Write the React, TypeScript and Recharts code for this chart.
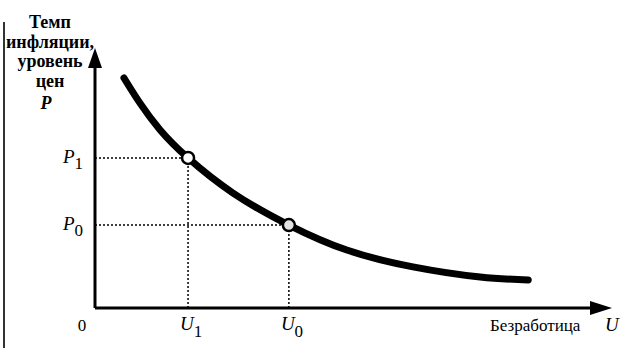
import { Line, LineChart, ReferenceDot, ReferenceLine, XAxis, YAxis } from 'recharts';

// Phillips curve (axes 0..100 in both directions)
const unemployment = [5.6, 8.7, 12.6, 18.0, 26.7, 37.5, 48.7, 61.5, 74.5, 83.8];
const inflation = [88.5, 78.8, 68.5, 57.7, 44.2, 31.9, 22.3, 15.8, 11.9, 10.8];

// marked points: (U1, P1) and (U0, P0)
const markU = [18.0, 37.5];
const markP = [57.7, 31.9];
const markSubs = ['1', '0'];

const xTicks = [0, ...markU];
const titleLines = ['Темп', 'инфляции,', 'уровень', 'цен'];

const chartData = unemployment.map((u, i) => ({ u, p: inflation[i] }));

const serif = 'Liberation Serif';

function XTick(props: any) {
	const { x, y, index } = props;
	if (index === 0) {
		return (
			<text x={x - 13} y={y + 15} textAnchor="middle" fontFamily={serif} fontSize={17} fill="#000">
				0
			</text>
		);
	}
	return (
		<text x={x - 8} y={y + 14} fontFamily={serif} fontSize={19} fontStyle="italic" fill="#000">
			U
			<tspan dy={7} fontStyle="normal" fontSize={17}>
				{markSubs[index - 1]}
			</tspan>
		</text>
	);
}

function YTick(props: any) {
	const { x, y, payload } = props;
	const i = markP.indexOf(payload.value);
	return (
		<text x={x - 24} y={y + 5} fontFamily={serif} fontSize={19} fontStyle="italic" fill="#000">
			P
			<tspan dy={6} fontStyle="normal" fontSize={17}>
				{markSubs[i]}
			</tspan>
		</text>
	);
}

const upArrow = (p: any) => (
	<polygon points={`${p.cx},${p.cy} ${p.cx - 7},${p.cy + 20} ${p.cx + 7},${p.cy + 20}`} fill="#000" />
);
const rightArrow = (p: any) => (
	<polygon points={`${p.cx},${p.cy} ${p.cx - 22},${p.cy - 7} ${p.cx - 22},${p.cy + 7}`} fill="#000" />
);

export default function App() {
	return (
		<div style={{ position: 'absolute', left: 0, top: 0, width: 637, height: 348, background: '#fff' }}>
			{/* scan edge */}
			<div style={{ position: 'absolute', left: 3, top: 22, width: 2, height: 326, background: '#333' }} />
			<div
				style={{
					position: 'absolute',
					left: 0,
					top: 13,
					width: 100,
					textAlign: 'center',
					fontFamily: serif,
					fontSize: 18,
					fontWeight: 'bold',
					lineHeight: '19.5px',
				}}
			>
				{titleLines.map((t) => (
					<div key={t}>{t}</div>
				))}
				<div style={{ fontStyle: 'italic', marginTop: 3, marginLeft: -8 }}>P</div>
			</div>
			<div
				style={{ position: 'absolute', left: 490, top: 316, fontFamily: serif, fontSize: 17, whiteSpace: 'nowrap' }}
			>
				Безработица
			</div>
			<div style={{ position: 'absolute', left: 605, top: 314, fontFamily: serif, fontSize: 19, fontStyle: 'italic' }}>
				U
			</div>
			<LineChart width={637} height={348} data={chartData} margin={{ top: 48, right: 25, left: 0, bottom: 0 }}>
				<XAxis
					dataKey="u"
					type="number"
					domain={[0, 100]}
					ticks={xTicks}
					axisLine={false}
					tickLine={false}
					height={40}
					tick={<XTick />}
					interval={0}
				/>
				<YAxis
					type="number"
					domain={[0, 100]}
					ticks={markP}
					axisLine={false}
					tickLine={false}
					width={95}
					tick={<YTick />}
					interval={0}
				/>
				{markU.map((u, i) => (
					<ReferenceLine
						key={'h' + i}
						segment={[
							{ x: 0, y: markP[i] },
							{ x: u, y: markP[i] },
						]}
						stroke="#000"
						strokeWidth={1.5}
						strokeDasharray="2 2"
					/>
				))}
				{markU.map((u, i) => (
					<ReferenceLine
						key={'v' + i}
						segment={[
							{ x: u, y: 0 },
							{ x: u, y: markP[i] },
						]}
						stroke="#000"
						strokeWidth={1.5}
						strokeDasharray="2 2"
					/>
				))}
				<ReferenceLine
					segment={[
						{ x: 0, y: 0 },
						{ x: 0, y: 95 },
					]}
					stroke="#000"
					strokeWidth={3}
				/>
				<ReferenceLine
					segment={[
						{ x: 0, y: 0 },
						{ x: 97, y: 0 },
					]}
					stroke="#000"
					strokeWidth={3}
				/>
				<ReferenceDot x={0} y={100} r={1} shape={upArrow} />
				<ReferenceDot x={100} y={0} r={1} shape={rightArrow} />
				<Line
					dataKey="p"
					type="natural"
					stroke="#000"
					strokeWidth={7}
					strokeLinecap="round"
					dot={false}
					activeDot={false}
					isAnimationActive={false}
				/>
				{markU.map((u, i) => (
					<ReferenceDot
						key={'d' + i}
						x={u}
						y={markP[i]}
						r={6}
						fill={i === 0 ? '#fff' : '#e2e2e2'}
						stroke="#000"
						strokeWidth={2.5}
					/>
				))}
			</LineChart>
		</div>
	);
}
